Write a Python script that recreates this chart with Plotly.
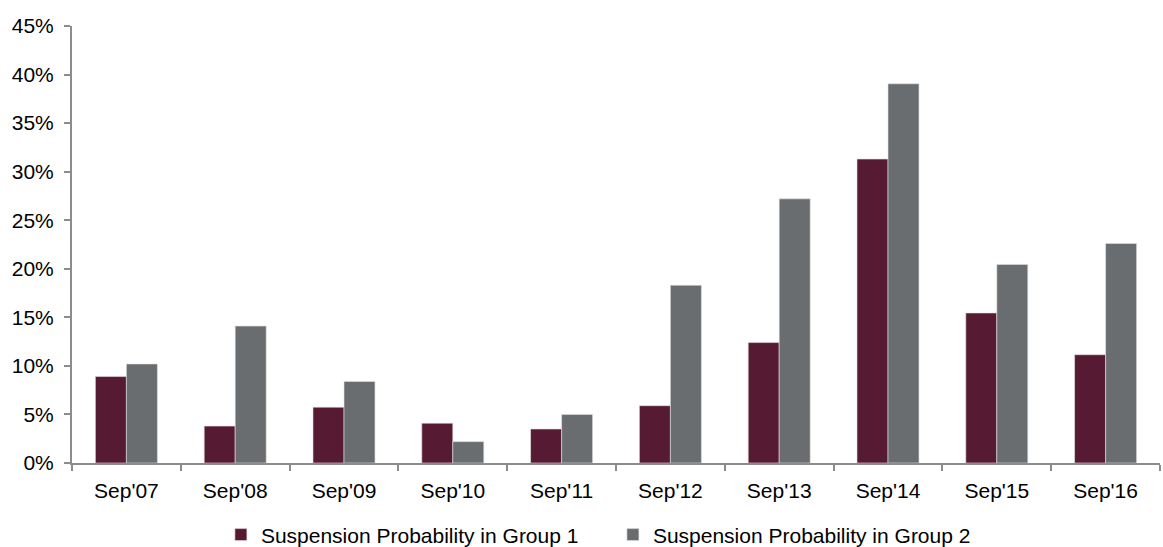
import plotly.graph_objects as go

categories = ["Sep'07", "Sep'08", "Sep'09", "Sep'10", "Sep'11",
              "Sep'12", "Sep'13", "Sep'14", "Sep'15", "Sep'16"]
group1 = [8.9, 3.8, 5.75, 4.1, 3.5, 5.9, 12.4, 31.3, 15.45, 11.15]
group2 = [10.2, 14.1, 8.4, 2.2, 5.0, 18.3, 27.2, 39.05, 20.45, 22.6]
name1 = "Suspension Probability in Group 1"
name2 = "Suspension Probability in Group 2"

font_family = "Liberation Sans, Arial, sans-serif"

fig = go.Figure()
fig.add_trace(go.Bar(x=categories, y=group1, name=name1,
                     marker=dict(color="#561A32", line=dict(color="#E8E0E3", width=0.6))))
fig.add_trace(go.Bar(x=categories, y=group2, name=name2,
                     marker=dict(color="#6A6D70", line=dict(color="#E0E0E0", width=0.6))))

fig.update_layout(
    width=1163, height=547,
    margin=dict(l=72, r=3, t=26, b=84, autoexpand=False),
    plot_bgcolor="white", paper_bgcolor="white",
    barmode="group", bargap=0.43, bargroupgap=0,
    font=dict(family=font_family, size=21, color="#000000"),
    showlegend=True,
    legend=dict(orientation="h", x=0.527, xanchor="center", xref="container",
                y=0.022, yanchor="middle", yref="container",
                font=dict(size=21), itemwidth=30, traceorder="normal",
                entrywidth=347, entrywidthmode="pixels"),
)
fig.update_xaxes(showline=True, linecolor="#8C8C8C", linewidth=2,
                 ticks="outside", tickson="boundaries", ticklen=6, tickcolor="#8C8C8C",
                 tickwidth=1.5, showgrid=False, tickfont=dict(size=21), automargin=False,
                 ticklabelstandoff=8)
fig.update_yaxes(range=[0, 45], dtick=5, ticksuffix="%", showline=True,
                 linecolor="#8C8C8C", linewidth=2, ticks="outside", ticklen=6,
                 tickcolor="#8C8C8C", tickwidth=1.5, showgrid=False, zeroline=False,
                 tickfont=dict(size=21), ticklabelstandoff=6, automargin=False)

fig.write_html("out.html")
